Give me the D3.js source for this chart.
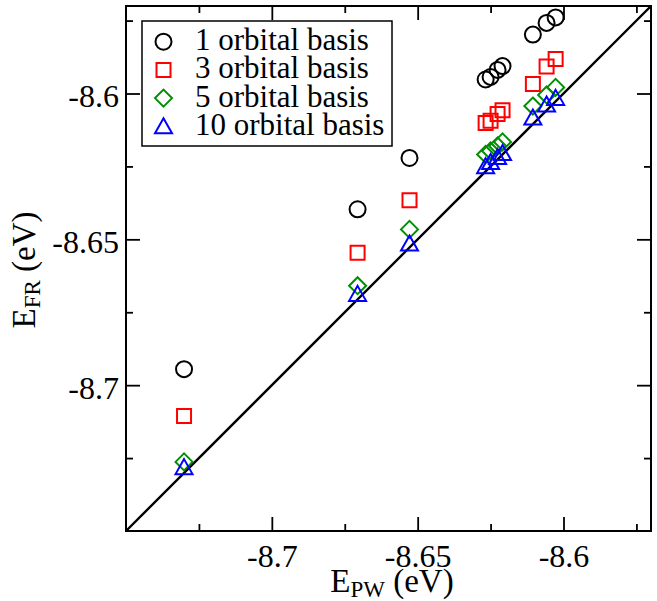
<!DOCTYPE html>
<html>
<head>
<meta charset="utf-8">
<script src="https://cdn.jsdelivr.net/npm/d3@7"></script>
<style>
  html, body { margin: 0; padding: 0; background: #fff; }
  svg { display: block; }
  text { font-family: "Liberation Serif", "Times New Roman", serif; fill: #000; }
</style>
</head>
<body>
<svg id="chart" width="657" height="601"></svg>
<script>
// ---------------- data ----------------
const xPW   = [-8.7301, -8.6706, -8.6528, -8.6267, -8.6250, -8.6226, -8.6209, -8.6105, -8.6058, -8.6027];
const orb1  = [-8.6945, -8.6397, -8.6221, -8.5952, -8.5943, -8.5919, -8.5906, -8.5798, -8.5758, -8.5739];
const orb3  = [-8.7106, -8.6546, -8.6366, -8.6101, -8.6093, -8.6070, -8.6057, -8.5967, -8.5907, -8.5882];
const orb5  = [-8.7263, -8.6659, -8.6466, -8.6209, -8.6197, -8.6180, -8.6166, -8.6043, -8.6005, -8.5979];
const orb10 = [-8.7281, -8.6687, -8.6514, -8.6249, -8.6235, -8.6218, -8.6204, -8.6082, -8.6038, -8.6015];
const seriesNames = ["1 orbital basis", "3 orbital basis", "5 orbital basis", "10 orbital basis"];
const majorTicks = [-8.7, -8.65, -8.6];
const majorLabels = ["-8.7", "-8.65", "-8.6"];
const minorTicks = [-8.725, -8.675, -8.625, -8.575];
const axisDomain = [-8.75, -8.57];
const diagonal = [-8.75, -8.57];

// ---------------- layout ----------------
const L = 126, R = 651, T = 6, B = 531;
const svg = d3.select("#chart");
const x = d3.scaleLinear().domain(axisDomain).range([L, R]);
const y = d3.scaleLinear().domain(axisDomain).range([B, T]);

const series = [
  {vals: orb1,  color: "#000000", shape: "circle"},
  {vals: orb3,  color: "#ff0000", shape: "square"},
  {vals: orb5,  color: "#008f00", shape: "diamond"},
  {vals: orb10, color: "#0000ff", shape: "triangle"}
];

// diagonal line y = x
svg.append("line")
  .attr("x1", x(diagonal[0])).attr("y1", y(diagonal[0]))
  .attr("x2", x(diagonal[1])).attr("y2", y(diagonal[1]))
  .attr("stroke", "#000").attr("stroke-width", 2.4);

// axes
const fmt = (d) => majorLabels[majorTicks.indexOf(d)] || "";
function styleAxis(g) {
  g.attr("font-family", null);
  g.select(".domain").remove();
  g.selectAll(".tick line").attr("stroke", "#000").attr("stroke-width", 1.8);
  g.selectAll(".tick text").attr("font-size", 32).attr("fill", "#000");
}
svg.append("g").attr("transform", `translate(0,${B})`)
  .call(d3.axisBottom(x).tickValues(majorTicks).tickFormat(fmt).tickSize(-14).tickPadding(13)).call(styleAxis);
svg.append("g").attr("transform", `translate(0,${B})`)
  .call(d3.axisBottom(x).tickValues(minorTicks).tickFormat("").tickSize(-7)).call(styleAxis);
const yAx = svg.append("g").attr("transform", `translate(${L},0)`)
  .call(d3.axisLeft(y).tickValues(majorTicks).tickFormat(fmt).tickSize(-14).tickPadding(7)).call(styleAxis);
yAx.selectAll(".tick text").attr("dy", "0.42em");
svg.append("g").attr("transform", `translate(${L},0)`)
  .call(d3.axisLeft(y).tickValues(minorTicks).tickFormat("").tickSize(-7)).call(styleAxis);
svg.append("g").attr("transform", `translate(0,${T})`)
  .call(d3.axisTop(x).tickValues(majorTicks).tickFormat("").tickSize(-14)).call(styleAxis);
svg.append("g").attr("transform", `translate(0,${T})`)
  .call(d3.axisTop(x).tickValues(minorTicks).tickFormat("").tickSize(-7)).call(styleAxis);
svg.append("g").attr("transform", `translate(${R},0)`)
  .call(d3.axisRight(y).tickValues(majorTicks).tickFormat("").tickSize(-14)).call(styleAxis);
svg.append("g").attr("transform", `translate(${R},0)`)
  .call(d3.axisRight(y).tickValues(minorTicks).tickFormat("").tickSize(-7)).call(styleAxis);

// frame
svg.append("rect").attr("x", L).attr("y", T).attr("width", R - L).attr("height", B - T)
  .attr("fill", "none").attr("stroke", "#000").attr("stroke-width", 2);

// marker shapes
function markerPath(shape) {
  const p = d3.path();
  if (shape === "circle") { p.moveTo(8, 0); p.arc(0, 0, 8, 0, 2 * Math.PI); }
  else if (shape === "square") { p.rect(-7, -7, 14, 14); }
  else if (shape === "diamond") { p.moveTo(0, -8.5); p.lineTo(8.5, 0); p.lineTo(0, 8.5); p.lineTo(-8.5, 0); p.closePath(); }
  else { p.moveTo(0, -8); p.lineTo(8.5, 7); p.lineTo(-8.5, 7); p.closePath(); }
  return p.toString();
}

// points
series.forEach(s => {
  svg.append("g").selectAll("path").data(s.vals.map((v, i) => [xPW[i], v])).join("path")
    .attr("d", markerPath(s.shape))
    .attr("transform", d => `translate(${x(d[0])},${y(d[1])})`)
    .attr("fill", "none").attr("stroke", s.color).attr("stroke-width", 2);
});

// legend
const lg = svg.append("g");
lg.append("rect").attr("x", 142).attr("y", 21).attr("width", 250).attr("height", 125)
  .attr("fill", "#fff").attr("stroke", "#000").attr("stroke-width", 1.5);
series.forEach((s, i) => {
  const cy = 41.7 + i * 28.2;
  lg.append("path").attr("d", markerPath(s.shape)).attr("transform", `translate(163.5,${cy})`)
    .attr("fill", "none").attr("stroke", s.color).attr("stroke-width", 2);
  lg.append("text").attr("x", 195).attr("y", cy + 8.5).attr("font-size", 31).text(seriesNames[i]);
});

// axis titles
const xt = svg.append("text").attr("x", 392).attr("y", 592).attr("text-anchor", "middle").attr("font-size", 33);
xt.append("tspan").text("E");
xt.append("tspan").attr("font-size", 23).attr("dy", 5).text("PW");
xt.append("tspan").attr("dy", -5).text(" (eV)");

const yt = svg.append("text").attr("transform", "translate(35,270) rotate(-90)").attr("text-anchor", "middle").attr("font-size", 33);
yt.append("tspan").text("E");
yt.append("tspan").attr("font-size", 23).attr("dy", 5).text("FR");
yt.append("tspan").attr("dy", -5).text(" (eV)");
</script>
</body>
</html>
